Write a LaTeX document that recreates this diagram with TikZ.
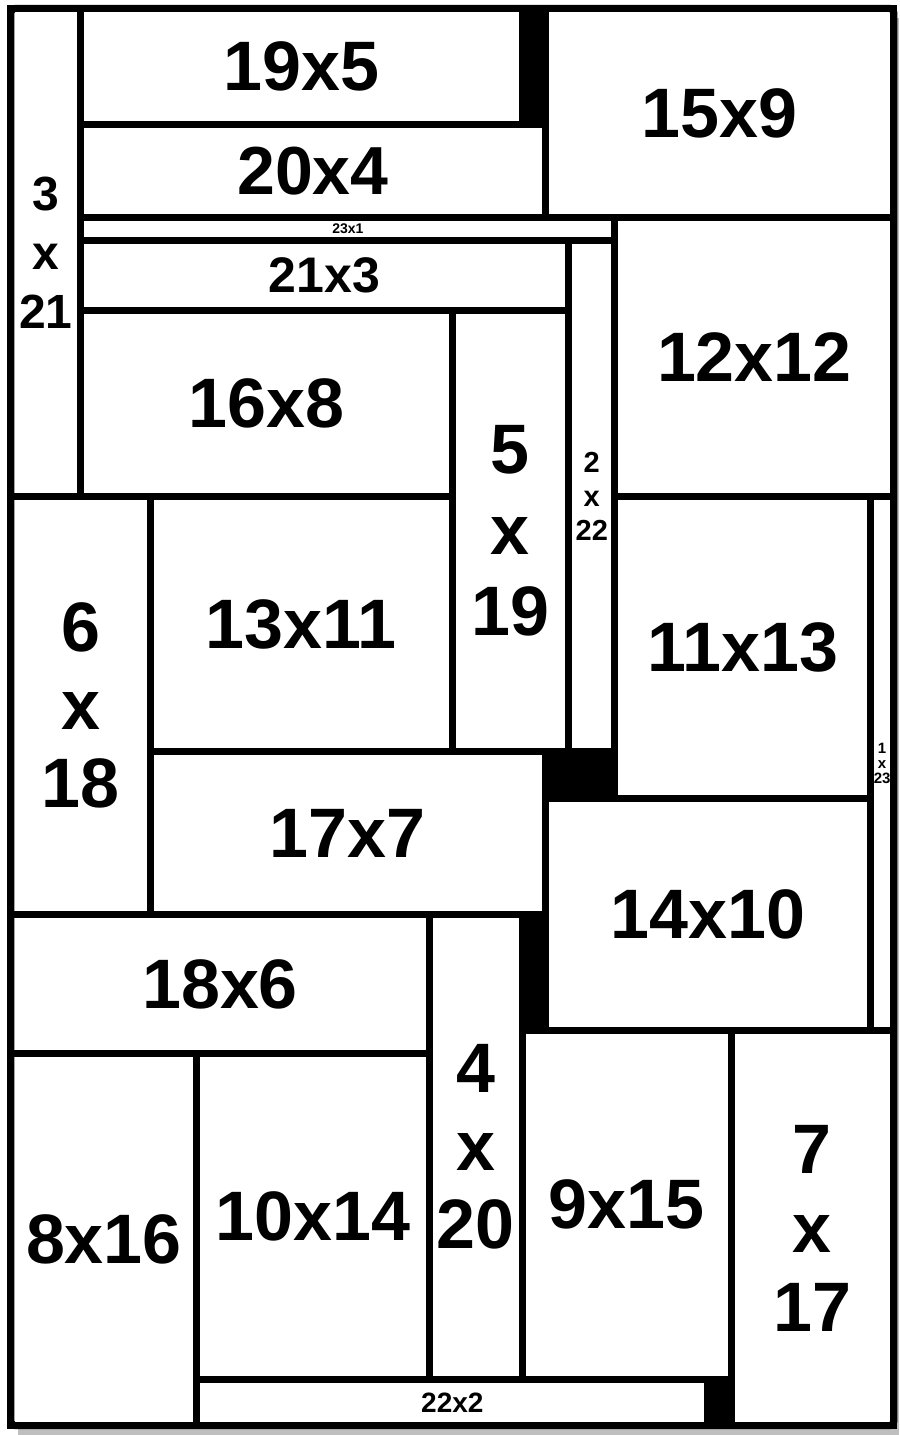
\documentclass[tikz,border=0pt]{standalone}
\usepackage{fontspec}
\setmainfont{Liberation Sans}
\newlength\cellunit
\setlength\cellunit{11.615pt}
\tikzset{
  cell/.style={draw=black, fill=white, line width=3.5pt, inner sep=0pt, outer sep=0pt, align=center, text=black},
  frameback/.style={fill=black, draw=none, inner sep=0pt, outer sep=0pt},
  frameline/.style={draw=black, line width=3.5pt, rounded corners=2pt},
  shadowbox/.style={fill=black!25, draw=none},
}
\newcommand{\mkcell}[7]{\node[cell, minimum width=#4*\cellunit, minimum height=#5*\cellunit, font=#6] (#1) at ({#2+#4/2},{#3+#5/2}) {#7};}
\begin{document}
\begin{tikzpicture}[x=11.615pt, y=-11.615pt]
\useasboundingbox (-0.4735,-0.3659) rectangle (38.2270,61.4080);
% shadow
\fill[shadowbox] (0.30,0.41) rectangle (38.227,61.408);
% container
\node[frameback, minimum width=38*\cellunit, minimum height=61*\cellunit] (frame) at (19,30.5) {};
% cells
\mkcell{r3x21}{0}{0}{3}{21}{\fontsize{24}{29.5}\selectfont\bfseries}{3\\x\\21}
\mkcell{r19x5}{3}{0}{19}{5}{\fontsize{35}{40}\selectfont\bfseries}{19x5}
\mkcell{r20x4}{3}{5}{20}{4}{\fontsize{34}{40}\selectfont\bfseries}{20x4}
\mkcell{r15x9}{23}{0}{15}{9}{\fontsize{35}{40}\selectfont\bfseries}{15x9}
\mkcell{r23x1}{3}{9}{23}{1}{\fontsize{7}{8}\selectfont\bfseries}{23x1}
\mkcell{r12x12}{26}{9}{12}{12}{\fontsize{35}{40}\selectfont\bfseries}{12x12}
\mkcell{r21x3}{3}{10}{21}{3}{\fontsize{25}{30}\selectfont\bfseries}{21x3}
\mkcell{r2x22}{24}{10}{2}{22}{\fontsize{14.5}{17}\selectfont\bfseries}{2\\x\\22}
\mkcell{r16x8}{3}{13}{16}{8}{\fontsize{35}{40}\selectfont\bfseries}{16x8}
\mkcell{r5x19}{19}{13}{5}{19}{\fontsize{35}{40.5}\selectfont\bfseries}{5\\x\\19}
\mkcell{r6x18}{0}{21}{6}{18}{\fontsize{35}{39}\selectfont\bfseries}{6\\x\\18}
\mkcell{r13x11}{6}{21}{13}{11}{\fontsize{35}{40}\selectfont\bfseries}{13x11}
\mkcell{r11x13}{26}{21}{11}{13}{\fontsize{35}{40}\selectfont\bfseries}{11x13}
\mkcell{r1x23}{37}{21}{1}{23}{\fontsize{7.5}{7.5}\selectfont\bfseries}{1\\x\\23}
\mkcell{r17x7}{6}{32}{17}{7}{\fontsize{35}{40}\selectfont\bfseries}{17x7}
\mkcell{r14x10}{23}{34}{14}{10}{\fontsize{35}{40}\selectfont\bfseries}{14x10}
\mkcell{r18x6}{0}{39}{18}{6}{\fontsize{35}{40}\selectfont\bfseries}{18x6}
\mkcell{r4x20}{18}{39}{4}{20}{\fontsize{35}{39}\selectfont\bfseries}{4\\x\\20}
\mkcell{r9x15}{22}{44}{9}{15}{\fontsize{35}{40}\selectfont\bfseries}{9x15}
\mkcell{r7x17}{31}{44}{7}{17}{\fontsize{35}{39.5}\selectfont\bfseries}{7\\x\\17}
\mkcell{r8x16}{0}{45}{8}{16}{\fontsize{35}{40}\selectfont\bfseries}{8x16}
\mkcell{r10x14}{8}{45}{10}{14}{\fontsize{35}{40}\selectfont\bfseries}{10x14}
\mkcell{r22x2}{8}{59}{22}{2}{\fontsize{14}{16}\selectfont\bfseries}{22x2}
% outer border
\draw[frameline] (frame.north west) rectangle (frame.south east);
\end{tikzpicture}
\end{document}
